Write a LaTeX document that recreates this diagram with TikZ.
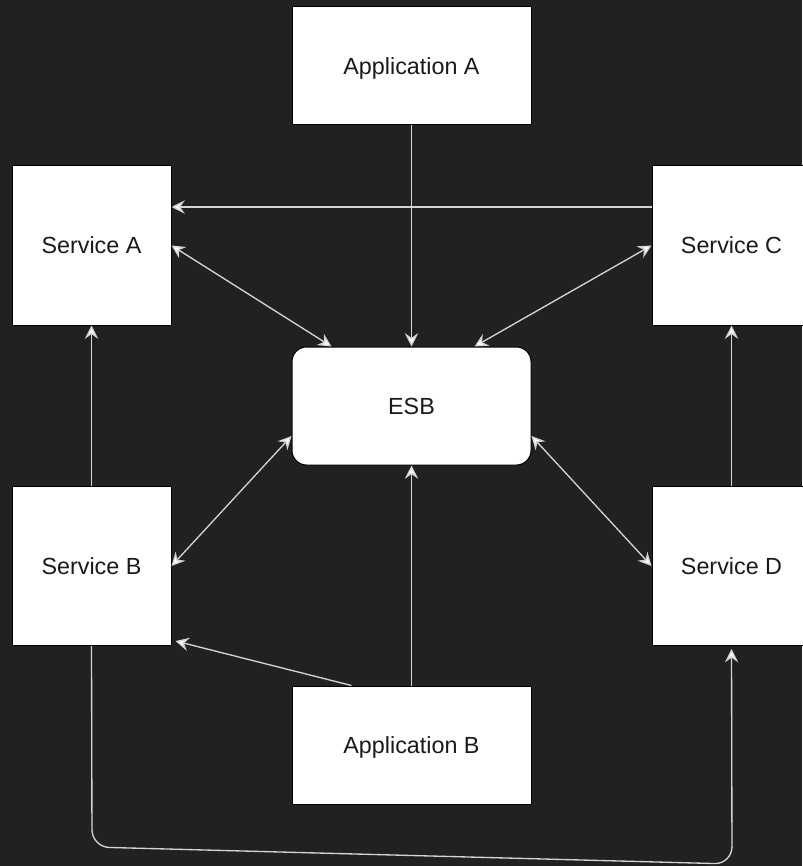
\documentclass[tikz,border=0pt]{standalone}
\usepackage{fontspec}
\setmainfont{Liberation Sans}
\usetikzlibrary{arrows.meta,calc}
\definecolor{bg}{HTML}{212121}
\definecolor{edge}{HTML}{D4D4D4}
\definecolor{txt}{HTML}{1A1A1A}
\begin{document}
\begin{tikzpicture}[x=0.75pt,y=-0.75pt,
  box/.style={draw=black,line width=0.75pt,fill=white,text=txt,font=\fontsize{17.5}{20}\selectfont,inner sep=0pt,text height=12.5pt,text depth=0pt},
  appbox/.style={box,minimum width=179.25pt,minimum height=88.5pt},
  svcbox/.style={box,minimum width=119.25pt,minimum height=119.25pt},
  esbbox/.style={appbox,rounded corners=11pt},
  tip/.style={Stealth[length=10pt,width=10pt,inset=3.5pt,fill=white]},
  conn/.style={draw=edge,line width=1pt,-{Stealth[length=10pt,width=10pt,inset=3.5pt,fill=white]}},
  biconn/.style={conn,{Stealth[length=10pt,width=10pt,inset=3.5pt,fill=white]}-{Stealth[length=10pt,width=10pt,inset=3.5pt,fill=white]}}
]
\fill[bg] (0,0) rectangle (802,866);
\useasboundingbox (0,0) rectangle (802,866);

\node[appbox] (appA) at (411.5,66) {Application A};
\node[svcbox] (svcA) at (91.5,245.5) {Service A};
\node[svcbox] (svcC) at (731.5,245.5) {Service C};
\node[esbbox] (esb) at (411.5,406) {ESB};
\node[svcbox] (svcB) at (91.5,566) {Service B};
\node[svcbox] (svcD) at (731.5,566) {Service D};
\node[appbox] (appB) at (411.5,745) {Application B};

\coordinate (bl) at (92,847);
\coordinate (br) at (732,864);

\draw[conn] (appA.south) -- (esb.north);
\draw[conn] ($(svcC.west)+(0,-38.5)$) -- ($(svcA.east)+(0,-38.5)$);
\draw[biconn] (svcA.east) -- ($(esb.north west)+(40,0)$);
\draw[biconn] (svcC.west) -- ($(esb.north east)+(-57,0)$);
\draw[conn] (svcB.north) -- (svcA.south);
\draw[conn] (svcD.north) -- (svcC.south);
\draw[biconn] ($(esb.west)+(0,30)$) -- (svcB.east);
\draw[biconn] ($(esb.east)+(0,30)$) -- (svcD.west);
\draw[conn] (appB.north) -- (esb.south);
\draw[conn] ($(appB.north west)+(60,0)$) -- ($(svcB.south east)+(4,-5)$);
\draw[conn,rounded corners=13pt] (svcB.south) -- (bl) -- (br) -- ($(svcD.south)+(0,3)$);
\end{tikzpicture}
\end{document}
